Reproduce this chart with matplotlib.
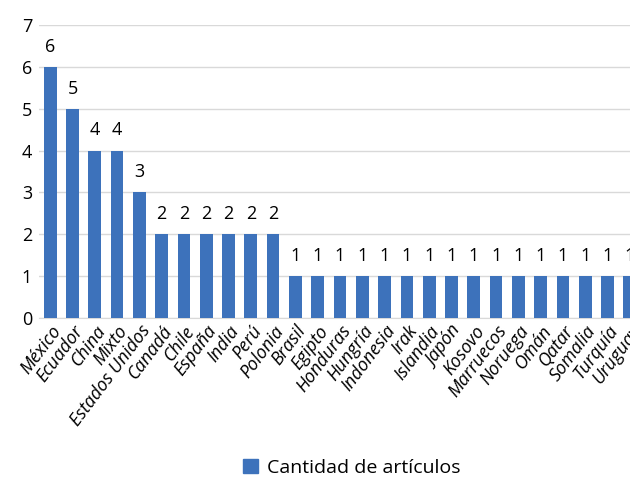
import matplotlib
matplotlib.use("Agg")
import matplotlib.pyplot as plt
from matplotlib.patches import Patch

categories = ["México", "Ecuador", "China", "Mixto", "Estados Unidos", "Canadá", "Chile",
              "España", "India", "Perú", "Polonia", "Brasil", "Egipto", "Honduras", "Hungría",
              "Indonesia", "Irak", "Islandia", "Japón", "Kosovo", "Marruecos", "Noruega",
              "Omán", "Qatar", "Somalia", "Turquía", "Uruguay"]
values = [6, 5, 4, 4, 3, 2, 2, 2, 2, 2, 2, 1, 1, 1, 1, 1, 1, 1, 1, 1, 1, 1, 1, 1, 1, 1, 1]
series_name = "Cantidad de artículos"
yticks = [0, 1, 2, 3, 4, 5, 6, 7]

plt.rcParams['font.family'] = ['Open Sans', 'DejaVu Sans']
color = "#3d72bb"

W, H = 630, 479
fig = plt.figure(figsize=(W / 100, H / 100), dpi=100)
left_px, right_px = 39, 641
bottom_px, top_px = 318, 25
ax = fig.add_axes([left_px / W, 1 - bottom_px / H, (right_px - left_px) / W, (bottom_px - top_px) / H])

x = list(range(len(categories)))
ax.bar(x, values, width=0.57, color=color, zorder=3)
ax.set_xlim(-0.5, len(categories) - 0.5)
ax.set_ylim(0, 7)
ax.set_yticks(yticks)
ax.set_yticklabels([str(t) for t in yticks], fontsize=13)
ax.yaxis.grid(True, color="#d9d9d9", linewidth=1, zorder=0)
for s in ["left", "right", "top"]:
    ax.spines[s].set_visible(False)
ax.spines["bottom"].set_color("#d9d9d9")
ax.tick_params(axis="y", length=0, pad=5)
ax.tick_params(axis="x", length=0, pad=3)
ax.set_xticks(x)
ax.set_xticklabels(categories, rotation=53, ha="right", va="top", rotation_mode="anchor",
                   fontsize=13, style="italic")

for xi, v in zip(x, values):
    ax.annotate(str(v), (xi, v), xytext=(0, 8), textcoords="offset points",
                ha="center", va="bottom", fontsize=13, annotation_clip=False)

fig.legend(handles=[Patch(color=color, label=series_name)], loc="center",
           bbox_to_anchor=(352 / W, 1 - 468 / H), frameon=False, fontsize=14,
           handlelength=0.75, handleheight=0.75, handletextpad=0.5)

fig.savefig("out.png", dpi=100)
